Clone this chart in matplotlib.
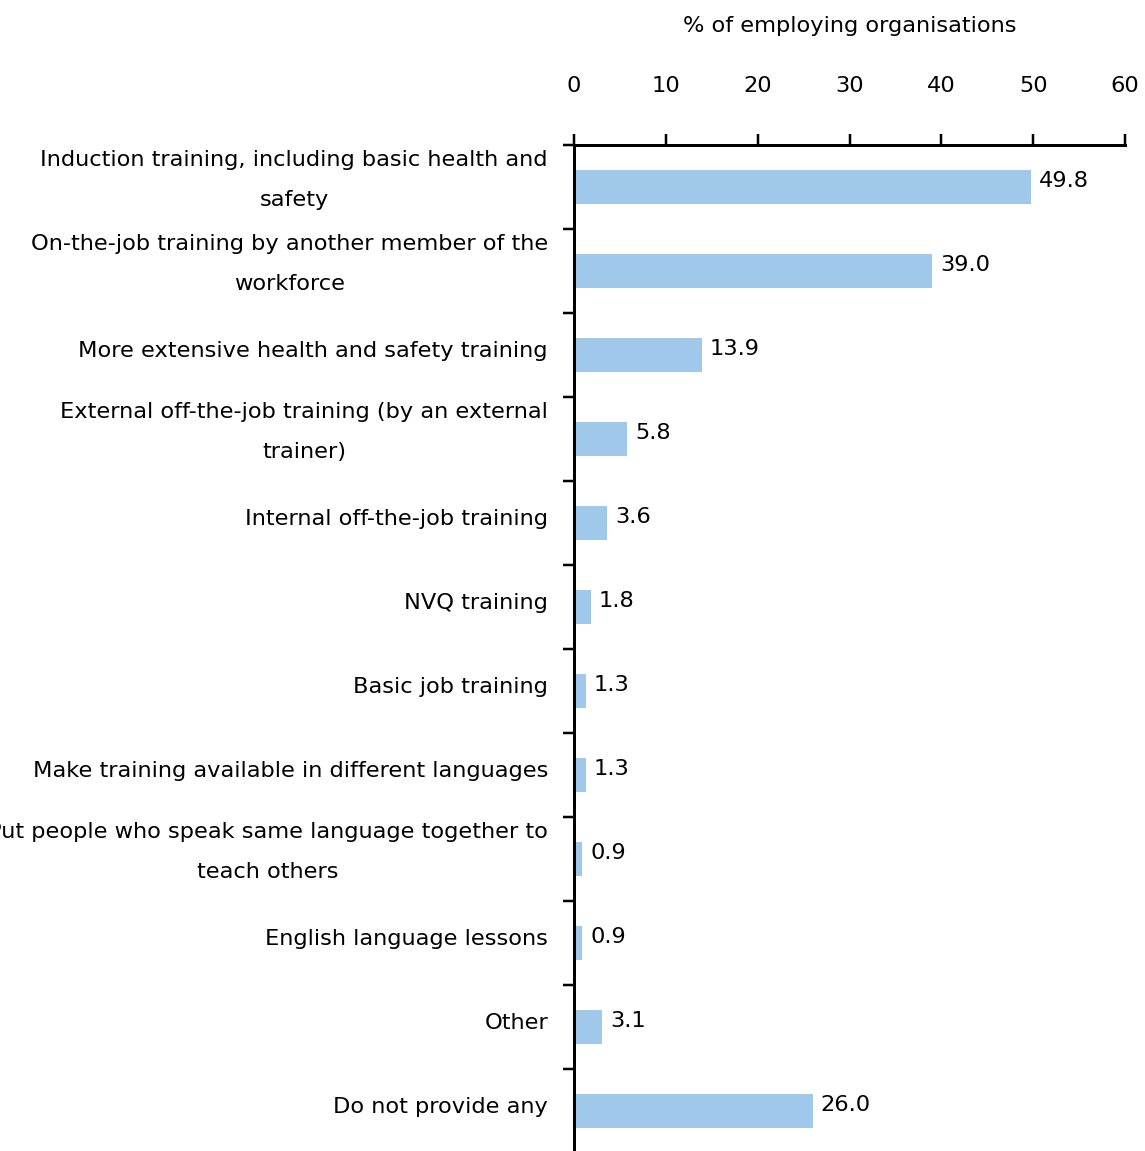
import matplotlib
matplotlib.use("Agg")
import matplotlib.pyplot as plt
import matplotlib.transforms as mtransforms

categories = [
    "Induction training, including basic health and\nsafety",
    "On-the-job training by another member of the\nworkforce",
    "More extensive health and safety training",
    "External off-the-job training (by an external\ntrainer)",
    "Internal off-the-job training",
    "NVQ training",
    "Basic job training",
    "Make training available in different languages",
    "Put people who speak same language together to\nteach others",
    "English language lessons",
    "Other",
    "Do not provide any",
]
values = [49.8, 39.0, 13.9, 5.8, 3.6, 1.8, 1.3, 1.3, 0.9, 0.9, 3.1, 26.0]
xticks = [0, 10, 20, 30, 40, 50, 60]
xlabel = "% of employing organisations"

plt.rcParams['font.family'] = ['DejaVu Sans']
FS = 16.2
PX = 0.72  # points per pixel at dpi 100
W, H = 1145, 1151
fig = plt.figure(figsize=(W / 100, H / 100), dpi=100)
ax = fig.add_axes([574 / W, 1 - 1153 / H, (1125 - 574) / W, (1153 - 145) / H])

n = len(categories)
ypos = list(range(n))
ax.barh(ypos, values, height=0.4, color="#9FC8EA", edgecolor="none", zorder=2)
ax.set_ylim(n - 0.5, -0.5)
ax.set_xlim(0, 60)

ax.xaxis.set_ticks_position("top")
ax.xaxis.set_label_position("top")
ax.set_xticks(xticks)
ax.set_xticklabels([str(t) for t in xticks], fontsize=FS)
ax.tick_params(axis="x", direction="out", length=11.5 * PX, width=2.5 * PX, pad=37 * PX)
ax.set_xlabel(xlabel, fontsize=FS, labelpad=45 * PX)

# category boundaries as ticks
ax.set_yticks([i - 0.5 for i in range(n + 1)], minor=False)
ax.set_yticklabels([])
ax.tick_params(axis="y", which="major", direction="out", length=11.5 * PX, width=2.5 * PX)
ax.set_yticks(ypos, minor=True)
ax.set_yticklabels(categories, minor=True, fontsize=FS, ha="right",
                   multialignment="center", linespacing=2.25)
ax.tick_params(axis="y", which="minor", length=0, pad=26 * PX)
for lab in ax.get_yticklabels(minor=True):
    dy = 19 if "\n" in lab.get_text() else 6
    off = mtransforms.ScaledTranslation(0, dy / 100, fig.dpi_scale_trans)
    lab.set_transform(lab.get_transform() + off)

for s in ["right", "bottom"]:
    ax.spines[s].set_visible(False)
for s in ["top", "left"]:
    ax.spines[s].set_linewidth(3 * PX)

for i, v in enumerate(values):
    ax.annotate(f"{v:.1f}", xy=(v, i), xytext=(8 * PX, 6 * PX), textcoords="offset points",
                va="center", ha="left", fontsize=FS)

fig.savefig("out.png", dpi=100)
